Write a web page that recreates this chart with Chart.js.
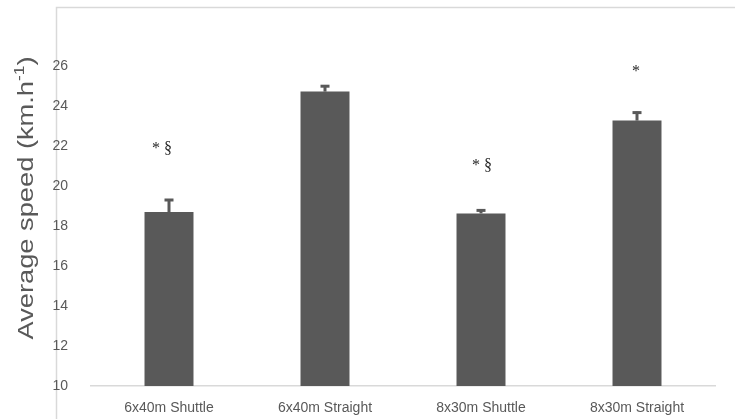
<!DOCTYPE html>
<html>
<head>
<meta charset="utf-8">
<script src="https://cdn.jsdelivr.net/npm/chart.js@4/dist/chart.umd.min.js"></script>
<style>
  html, body { margin: 0; padding: 0; background: #ffffff; }
  #wrap { width: 735px; height: 419px; position: relative; }
</style>
</head>
<body>
<div id="wrap"><canvas id="chart" width="735" height="419"></canvas></div>
<script>
// Sprint protocols and their average running speed (km/h), mean ± SD
const categories = ['6x40m Shuttle', '6x40m Straight', '8x30m Shuttle', '8x30m Straight'];
const meanSpeed = [18.7, 24.72, 18.63, 23.27];
const sdSpeed = [0.65, 0.32, 0.2, 0.45];

// Significance markers and the speed level they sit at
const markerText = ['* §', '', '* §', '*'];
const markerLevel = [21.85, null, 21.0, 25.7];

// Axis range
const yMin = 10;
const yMax = 28;
const yStep = 2;

const GREY = '#595959';
const LINE = '#d9d9d9';
const PLOT_TOP = 26;

const framePlugin = {
  id: 'frame',
  beforeDraw(chart) {
    const ctx = chart.ctx;
    ctx.save();
    ctx.strokeStyle = LINE;
    ctx.lineWidth = 1.5;
    ctx.strokeRect(56.5, 7.5, 800, 600);
    ctx.restore();
  }
};

const yTitlePlugin = {
  id: 'yTitle',
  afterDraw(chart) {
    const ctx = chart.ctx;
    ctx.save();
    ctx.translate(27, 198);
    ctx.rotate(-Math.PI / 2);
    const main = 'Average speed (km.h';
    const sup = '-1';
    const close = ')';
    const big = '22px "Liberation Sans", Arial, sans-serif';
    const small = '14px "Liberation Sans", Arial, sans-serif';
    ctx.font = big;
    const wMain = ctx.measureText(main).width;
    const wClose = ctx.measureText(close).width;
    ctx.font = small;
    const wSup = ctx.measureText(sup).width;
    const total = wMain + wSup + wClose;
    const target = 283;
    ctx.scale(target / total, 1);
    ctx.fillStyle = GREY;
    ctx.textBaseline = 'middle';
    ctx.textAlign = 'left';
    let x = -total / 2;
    ctx.font = big;
    ctx.fillText(main, x, 0);
    x += wMain;
    ctx.font = small;
    ctx.fillText(sup, x, -7);
    x += wSup;
    ctx.font = big;
    ctx.fillText(close, x, 0);
    ctx.restore();
  }
};

const errorBarPlugin = {
  id: 'errorBars',
  afterDatasetsDraw(chart) {
    const ctx = chart.ctx;
    const meta = chart.getDatasetMeta(0);
    const yScale = chart.scales.y;
    ctx.save();
    ctx.strokeStyle = GREY;
    ctx.lineWidth = 3;
    meta.data.forEach((bar, i) => {
      const x = bar.x;
      const yTop = yScale.getPixelForValue(meanSpeed[i] + sdSpeed[i]);
      const yBar = yScale.getPixelForValue(meanSpeed[i]);
      ctx.beginPath();
      ctx.moveTo(x, yBar);
      ctx.lineTo(x, yTop);
      ctx.stroke();
      ctx.beginPath();
      ctx.moveTo(x - 4.5, yTop + 1);
      ctx.lineTo(x + 4.5, yTop + 1);
      ctx.stroke();
    });
    ctx.restore();
  }
};

const markerPlugin = {
  id: 'markers',
  afterDatasetsDraw(chart, args, opts) {
    const ctx = chart.ctx;
    const meta = chart.getDatasetMeta(0);
    const yScale = chart.scales.y;
    ctx.save();
    ctx.fillStyle = '#262626';
    ctx.font = '16px "Liberation Serif", "Times New Roman", serif';
    ctx.textAlign = 'center';
    ctx.textBaseline = 'middle';
    meta.data.forEach((bar, i) => {
      if (!markerText[i] || markerLevel[i] == null) return;
      const y = yScale.getPixelForValue(markerLevel[i]);
      ctx.fillText(markerText[i], bar.x + (opts.shift[i] || 0), y);
    });
    ctx.restore();
  }
};

const chart = new Chart(document.getElementById('chart'), {
  type: 'bar',
  data: {
    labels: categories,
    datasets: [{
      data: meanSpeed,
      backgroundColor: GREY,
      borderWidth: 0,
      categoryPercentage: 1,
      barPercentage: 0.314
    }]
  },
  options: {
    responsive: false,
    animation: false,
    devicePixelRatio: 1,
    layout: { padding: { top: PLOT_TOP, right: 20, bottom: 0, left: 0 } },
    plugins: {
      legend: { display: false },
      tooltip: { enabled: false },
      markers: { shift: [-7, 0, 1, -1] }
    },
    scales: {
      x: {
        type: 'category',
        offset: true,
        grid: { display: false, drawTicks: false },
        border: { display: true, color: LINE, width: 1.5 },
        ticks: {
          color: GREY,
          font: { family: '"Liberation Sans", Arial, sans-serif', size: 14 },
          padding: 14,
          maxRotation: 0
        },
        afterFit(scale) { scale.height = 33; }
      },
      y: {
        min: yMin,
        max: yMax,
        grid: { display: false, drawTicks: false },
        border: { display: false },
        ticks: {
          stepSize: yStep,
          color: GREY,
          font: { family: '"Liberation Sans", Arial, sans-serif', size: 14 },
          padding: 23,
          callback: (v) => (v === yMax ? '' : v)
        },
        afterFit(scale) {
          scale.width = 91;
          // keep the plot top fixed by the layout padding alone
          scale.paddingTop = 0;
          scale.paddingBottom = 0;
        }
      }
    }
  },
  plugins: [framePlugin, yTitlePlugin, errorBarPlugin, markerPlugin]
});

// nudge the layout padding if the plot top still drifts
const drift = chart.chartArea.top - PLOT_TOP;
if (Math.abs(drift) > 0.5) {
  chart.options.layout.padding.top = PLOT_TOP - drift;
  chart.update('none');
}
</script>
</body>
</html>
